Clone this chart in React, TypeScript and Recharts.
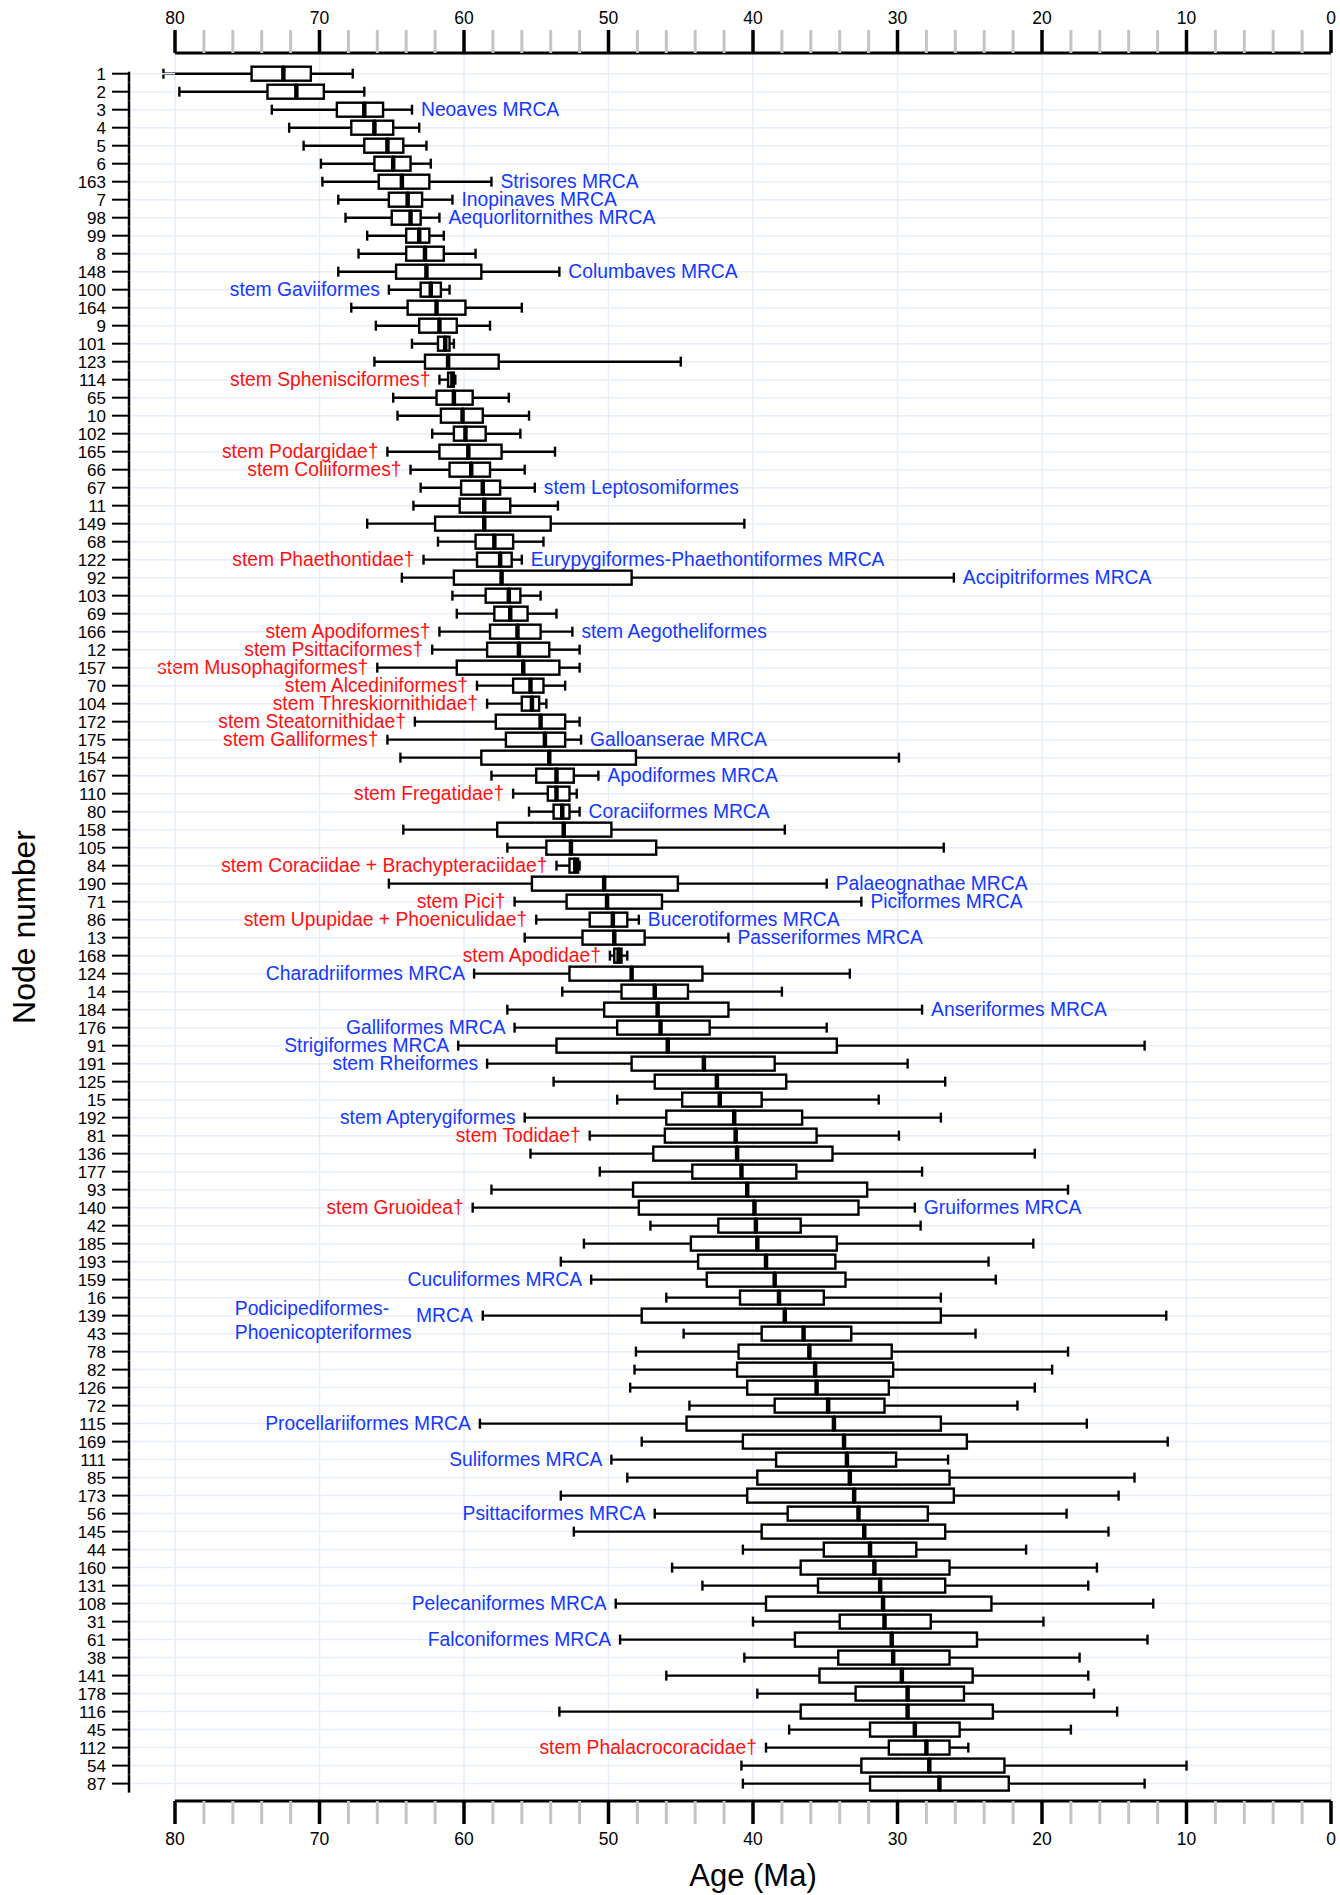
import { Bar, CartesianGrid, ComposedChart, XAxis, YAxis } from 'recharts'

const FONT = '"Liberation Sans", Arial, Helvetica, sans-serif'
const GRID = '#e6eefa'
const RED = '#ff1010'
const BLUE = '#1438ff'

// node ids, top to bottom
const nodes = [
  '1', '2', '3', '4', '5', '6', '163', '7',
  '98', '99', '8', '148', '100', '164', '9', '101',
  '123', '114', '65', '10', '102', '165', '66', '67',
  '11', '149', '68', '122', '92', '103', '69', '166',
  '12', '157', '70', '104', '172', '175', '154', '167',
  '110', '80', '158', '105', '84', '190', '71', '86',
  '13', '168', '124', '14', '184', '176', '91', '191',
  '125', '15', '192', '81', '136', '177', '93', '140',
  '42', '185', '193', '159', '16', '139', '43', '78',
  '82', '126', '72', '115', '169', '111', '85', '173',
  '56', '145', '44', '160', '131', '108', '31', '61',
  '38', '141', '178', '116', '45', '112', '54', '87',
]

// ages in Ma: whisker ends, quartiles, median
const oldestAge = [
  80.8, 79.7, 73.3, 72.1, 71.1, 69.9, 69.8, 68.7,
  68.2, 66.7, 67.3, 68.7, 65.2, 67.8, 66.1, 63.6,
  66.2, 61.7, 64.9, 64.6, 62.2, 65.3, 63.7, 63.0,
  63.5, 66.7, 61.8, 62.8, 64.3, 60.8, 60.5, 61.7,
  62.2, 66.0, 59.1, 58.4, 63.4, 65.3, 64.4, 58.1,
  56.6, 55.5, 64.2, 57.0, 53.6, 65.2, 56.5, 55.0,
  55.8, 49.9, 59.3, 53.2, 57.0, 56.5, 60.4, 58.4,
  53.8, 49.4, 55.8, 51.3, 55.4, 50.6, 58.1, 59.4,
  47.1, 51.7, 53.3, 51.2, 46.0, 58.7, 44.8, 48.1,
  48.2, 48.5, 44.4, 58.9, 47.7, 49.8, 48.7, 53.3,
  46.8, 52.4, 40.7, 45.6, 43.5, 49.5, 40.0, 49.2,
  40.6, 46.0, 39.7, 53.4, 37.5, 39.1, 40.8, 40.7,
]
const upperQuart = [
  74.7, 73.6, 68.8, 67.8, 66.9, 66.2, 65.9, 65.2,
  65.0, 64.0, 64.0, 64.7, 63.0, 63.9, 63.1, 61.8,
  62.7, 61.1, 61.9, 61.6, 60.7, 61.7, 61.0, 60.2,
  60.3, 62.0, 59.2, 59.1, 60.7, 58.5, 57.9, 58.2,
  58.4, 60.5, 56.6, 56.0, 57.8, 57.1, 58.8, 55.0,
  54.2, 53.8, 57.7, 54.3, 52.7, 55.3, 52.9, 51.3,
  51.8, 49.6, 52.7, 49.1, 50.3, 49.4, 53.6, 48.4,
  46.8, 44.9, 46.0, 46.1, 46.9, 44.2, 48.3, 47.9,
  42.4, 44.3, 43.8, 43.2, 40.9, 47.7, 39.4, 41.0,
  41.1, 40.4, 38.5, 44.6, 40.7, 38.4, 39.7, 40.4,
  37.6, 39.4, 35.1, 36.7, 35.5, 39.1, 34.0, 37.1,
  34.1, 35.4, 32.9, 36.7, 31.9, 30.6, 32.5, 31.9,
]
const medianAge = [
  72.5, 71.6, 66.9, 66.2, 65.3, 64.9, 64.3, 63.9,
  63.7, 63.1, 62.7, 62.6, 62.3, 61.9, 61.7, 61.3,
  61.1, 60.8, 60.7, 60.1, 59.9, 59.7, 59.5, 58.7,
  58.6, 58.6, 57.9, 57.5, 57.4, 56.9, 56.8, 56.3,
  56.2, 55.9, 55.4, 55.3, 54.7, 54.4, 54.1, 53.6,
  53.6, 53.2, 53.1, 52.6, 52.3, 50.3, 50.1, 49.7,
  49.6, 49.3, 48.4, 46.8, 46.6, 46.4, 45.9, 43.4,
  42.5, 42.3, 41.3, 41.2, 41.1, 40.8, 40.4, 39.9,
  39.8, 39.7, 39.1, 38.5, 38.2, 37.8, 36.5, 36.1,
  35.7, 35.6, 34.8, 34.4, 33.7, 33.5, 33.3, 33.0,
  32.7, 32.3, 31.9, 31.6, 31.2, 31.0, 30.9, 30.4,
  30.3, 29.7, 29.3, 29.3, 28.8, 28.0, 27.8, 27.1,
]
const lowerQuart = [
  70.6, 69.7, 65.6, 64.9, 64.2, 63.7, 62.4, 62.9,
  63.0, 62.4, 61.4, 58.8, 61.6, 59.9, 60.5, 61.0,
  57.6, 60.7, 59.4, 58.7, 58.5, 57.4, 58.2, 57.5,
  56.8, 54.0, 56.6, 56.7, 48.4, 56.1, 55.6, 54.7,
  54.1, 53.4, 54.5, 54.8, 53.0, 53.0, 48.1, 52.4,
  52.7, 52.7, 49.8, 46.7, 52.1, 45.2, 46.3, 48.7,
  47.5, 49.1, 43.5, 44.5, 41.7, 43.0, 34.2, 38.5,
  37.7, 39.4, 36.6, 35.6, 34.5, 37.0, 32.1, 32.7,
  36.7, 34.2, 34.3, 33.6, 35.1, 27.0, 33.2, 30.4,
  30.3, 30.6, 30.9, 27.0, 25.2, 30.1, 26.4, 26.1,
  27.9, 26.7, 28.7, 26.4, 26.7, 23.5, 27.7, 24.5,
  26.4, 24.8, 25.4, 23.4, 25.7, 26.4, 22.6, 22.3,
]
const youngestAge = [
  67.7, 66.9, 63.6, 63.1, 62.6, 62.3, 58.1, 60.8,
  61.7, 61.4, 59.2, 53.4, 61.0, 56.0, 58.2, 60.7,
  45.0, 60.6, 56.9, 55.5, 56.1, 53.7, 55.8, 55.1,
  53.5, 40.6, 54.5, 56.0, 26.1, 54.7, 53.6, 52.5,
  52.0, 52.0, 53.0, 54.3, 52.0, 51.9, 29.9, 50.7,
  52.2, 52.0, 37.8, 26.8, 52.0, 34.9, 32.5, 47.9,
  41.7, 48.7, 33.3, 38.0, 28.3, 34.9, 12.9, 29.3,
  26.7, 31.3, 27.0, 29.9, 20.5, 28.3, 18.2, 28.8,
  28.4, 20.6, 23.7, 23.2, 27.0, 11.4, 24.6, 18.2,
  19.3, 20.5, 21.7, 16.9, 11.3, 26.5, 13.6, 14.7,
  18.3, 15.4, 21.1, 16.2, 16.8, 12.3, 19.9, 12.7,
  17.4, 16.8, 16.4, 14.8, 18.0, 25.1, 10.0, 12.9,
]

// calibration notes, by node
const olderNotes: [string, string][] = [
  ['100', 'stem Gaviiformes'],
  ['114', 'stem Sphenisciformes†'],
  ['165', 'stem Podargidae†'],
  ['66', 'stem Coliiformes†'],
  ['122', 'stem Phaethontidae†'],
  ['166', 'stem Apodiformes†'],
  ['12', 'stem Psittaciformes†'],
  ['157', 'stem Musophagiformes†'],
  ['70', 'stem Alcediniformes†'],
  ['104', 'stem Threskiornithidae†'],
  ['172', 'stem Steatornithidae†'],
  ['175', 'stem Galliformes†'],
  ['110', 'stem Fregatidae†'],
  ['84', 'stem Coraciidae + Brachypteraciidae†'],
  ['71', 'stem Pici†'],
  ['86', 'stem Upupidae + Phoeniculidae†'],
  ['168', 'stem Apodidae†'],
  ['124', 'Charadriiformes MRCA'],
  ['176', 'Galliformes MRCA'],
  ['91', 'Strigiformes MRCA'],
  ['191', 'stem Rheiformes'],
  ['192', 'stem Apterygiformes'],
  ['81', 'stem Todidae†'],
  ['140', 'stem Gruoidea†'],
  ['159', 'Cuculiformes MRCA'],
  ['139', 'Podicipediformes-Phoenicopteriformes MRCA'],
  ['115', 'Procellariiformes MRCA'],
  ['111', 'Suliformes MRCA'],
  ['56', 'Psittaciformes MRCA'],
  ['108', 'Pelecaniformes MRCA'],
  ['61', 'Falconiformes MRCA'],
  ['112', 'stem Phalacrocoracidae†'],
]
const youngerNotes: [string, string][] = [
  ['3', 'Neoaves MRCA'],
  ['163', 'Strisores MRCA'],
  ['7', 'Inopinaves MRCA'],
  ['98', 'Aequorlitornithes MRCA'],
  ['148', 'Columbaves MRCA'],
  ['67', 'stem Leptosomiformes'],
  ['122', 'Eurypygiformes-Phaethontiformes MRCA'],
  ['92', 'Accipitriformes MRCA'],
  ['166', 'stem Aegotheliformes'],
  ['175', 'Galloanserae MRCA'],
  ['167', 'Apodiformes MRCA'],
  ['80', 'Coraciiformes MRCA'],
  ['190', 'Palaeognathae MRCA'],
  ['71', 'Piciformes MRCA'],
  ['86', 'Bucerotiformes MRCA'],
  ['13', 'Passeriformes MRCA'],
  ['184', 'Anseriformes MRCA'],
  ['140', 'Gruiformes MRCA'],
]

const ageTicks = [
  0, 2, 4, 6, 8, 10, 12, 14, 16, 18, 20, 22, 24, 26, 28, 30, 32, 34, 36, 38, 40,
  42, 44, 46, 48, 50, 52, 54, 56, 58, 60, 62, 64, 66, 68, 70, 72, 74, 76, 78, 80,
]
const decades = [0, 10, 20, 30, 40, 50, 60, 70, 80]

const olderMap = new Map(olderNotes)
const youngerMap = new Map(youngerNotes)

// stacked segments: invisible base, young whisker, two box halves
// (old whisker is drawn from the upper half so it can run past 80 Ma)
const rows = nodes.map((node, i) => ({
  node,
  hi: oldestAge[i],
  q3: upperQuart[i],
  med: medianAge[i],
  base: youngestAge[i],
  w1: lowerQuart[i] - youngestAge[i],
  b1: medianAge[i] - lowerQuart[i],
  b2: upperQuart[i] - medianAge[i],
}))

const noteColor = (t: string) => (t.endsWith('†') ? RED : BLUE)
const span = (x: number, w: number) => [Math.min(x, x + w), Math.max(x, x + w)]

function NoteText({ x, y, anchor, text }: { x: number; y: number; anchor: 'start' | 'end'; text: string }) {
  return (
    <text x={x} y={y} dy="0.35em" textAnchor={anchor} fill={noteColor(text)} fontSize={19.3} fontFamily={FONT}>
      {text}
    </text>
  )
}

function YoungWhisker(p: any) {
  const [l, r] = span(p.x, p.width)
  const cy = p.y + p.height / 2
  const note = youngerMap.get(p.payload.node)
  return (
    <g>
      <line x1={l} x2={r} y1={cy} y2={cy} stroke="#000" strokeWidth={2.4} />
      <line x1={r} x2={r} y1={cy - 5} y2={cy + 5} stroke="#000" strokeWidth={2.4} />
      {note && <NoteText x={r + 9} y={cy} anchor="start" text={note} />}
    </g>
  )
}

function LowerBox(p: any) {
  const [l, r] = span(p.x, p.width)
  return <rect x={l} y={p.y} width={r - l} height={p.height} fill="#fff" stroke="#000" strokeWidth={2.4} />
}

function UpperBox(p: any) {
  const [l, r] = span(p.x, p.width)
  const { hi, q3, med, node } = p.payload
  const cy = p.y + p.height / 2
  const perMa = (r - l) / (q3 - med)
  const end = l - (hi - q3) * perMa
  const note = olderMap.get(node)
  let label = null
  if (note && note.includes('-')) {
    const [head, rest] = note.split('-')
    const [mid, tail] = rest.split(' ')
    label = (
      <g>
        <NoteText x={end - 248} y={cy - 7} anchor="start" text={head + '-'} />
        <NoteText x={end - 248} y={cy + 16.5} anchor="start" text={mid} />
        <NoteText x={end - 10} y={cy} anchor="end" text={tail} />
      </g>
    )
  } else if (note) {
    label = <NoteText x={end - 9} y={cy} anchor="end" text={note} />
  }
  return (
    <g>
      <rect x={l} y={p.y} width={r - l} height={p.height} fill="#fff" stroke="#000" strokeWidth={2.4} />
      <line x1={r} x2={r} y1={p.y} y2={p.y + p.height} stroke="#000" strokeWidth={4.5} />
      <line x1={end} x2={l} y1={cy} y2={cy} stroke="#000" strokeWidth={2.4} />
      <line x1={end} x2={end} y1={cy - 5} y2={cy + 5} stroke="#000" strokeWidth={2.4} />
      {label}
    </g>
  )
}

function AgeTick({ x, y, payload, side }: any) {
  const major = payload.value % 10 === 0
  const dir = side === 'top' ? -1 : 1
  return (
    <g>
      <line x1={x} x2={x} y1={y} y2={y + dir * 23} stroke={major ? '#000' : '#c4c4c4'} strokeWidth={major ? 3.5 : 3} />
      {major && (
        <text x={x} y={side === 'top' ? y - 35 : y + 38} dy="0.35em" textAnchor="middle" fontSize={17.5} fontFamily={FONT} fill="#000">
          {payload.value}
        </text>
      )}
    </g>
  )
}

function NodeTick({ x, y, payload, index }: any) {
  const ax = x - 46
  return (
    <g>
      <line x1={ax} x2={x} y1={y} y2={y} stroke={GRID} strokeWidth={1.5} />
      <line x1={ax} x2={ax} y1={index === 0 ? y - 2 : y - 9} y2={y + 9} stroke="#000" strokeWidth={2.5} />
      <line x1={ax - 17} x2={ax} y1={y} y2={y} stroke="#000" strokeWidth={2} />
      <text x={x - 69} y={y} dy="0.35em" textAnchor="end" fontSize={17} fontFamily={FONT} fill="#000">
        {payload.value}
      </text>
    </g>
  )
}

function AgeTitle({ viewBox }: any) {
  return (
    <text x={viewBox.x + viewBox.width / 2} y={viewBox.y + 74} dy="0.35em" textAnchor="middle" fontSize={31} fontFamily={FONT} fill="#000">
      Age (Ma)
    </text>
  )
}

function NodeTitle({ viewBox }: any) {
  const cx = viewBox.x + 24
  const cy = viewBox.y + viewBox.height / 2
  return (
    <text x={cx} y={cy} dy="0.35em" textAnchor="middle" transform={`rotate(-90 ${cx} ${cy})`} fontSize={32} fontFamily={FONT} fill="#000">
      Node number
    </text>
  )
}

export default function App() {
  return (
    <div style={{ position: 'absolute', left: 0, top: 0, background: '#fff' }}>
      <ComposedChart
        layout="vertical"
        width={1340}
        height={1895}
        data={rows}
        margin={{ top: 0, right: 9, bottom: 0, left: 0 }}
        barSize={14}
      >
        <CartesianGrid xAxisId="bottom" stroke={GRID} strokeWidth={1.5} verticalValues={decades} />
        <XAxis
          xAxisId="top"
          orientation="top"
          type="number"
          domain={[0, 80]}
          allowDataOverflow
          reversed
          ticks={ageTicks}
          interval={0}
          height={53}
          tickSize={0}
          tickMargin={0}
          tickLine={false}
          axisLine={{ stroke: '#000', strokeWidth: 3 }}
          tick={<AgeTick side="top" />}
        />
        <XAxis
          xAxisId="bottom"
          orientation="bottom"
          type="number"
          domain={[0, 80]}
          reversed
          ticks={ageTicks}
          interval={0}
          height={94}
          tickSize={0}
          tickMargin={0}
          tickLine={false}
          axisLine={{ stroke: '#000', strokeWidth: 3 }}
          tick={<AgeTick side="bottom" />}
          label={<AgeTitle />}
        />
        <YAxis
          type="category"
          dataKey="node"
          width={175}
          interval={0}
          tickSize={0}
          tickMargin={0}
          tickLine={false}
          axisLine={false}
          padding={{ top: 11.7, bottom: 8.4 }}
          tick={<NodeTick />}
          label={<NodeTitle />}
        />
        <Bar dataKey="base" stackId="a" xAxisId="bottom" shape={() => <g />} isAnimationActive={false} />
        <Bar dataKey="w1" stackId="a" xAxisId="bottom" shape={YoungWhisker} isAnimationActive={false} />
        <Bar dataKey="b1" stackId="a" xAxisId="bottom" shape={LowerBox} isAnimationActive={false} />
        <Bar dataKey="b2" stackId="a" xAxisId="bottom" shape={UpperBox} isAnimationActive={false} />
      </ComposedChart>
    </div>
  )
}
